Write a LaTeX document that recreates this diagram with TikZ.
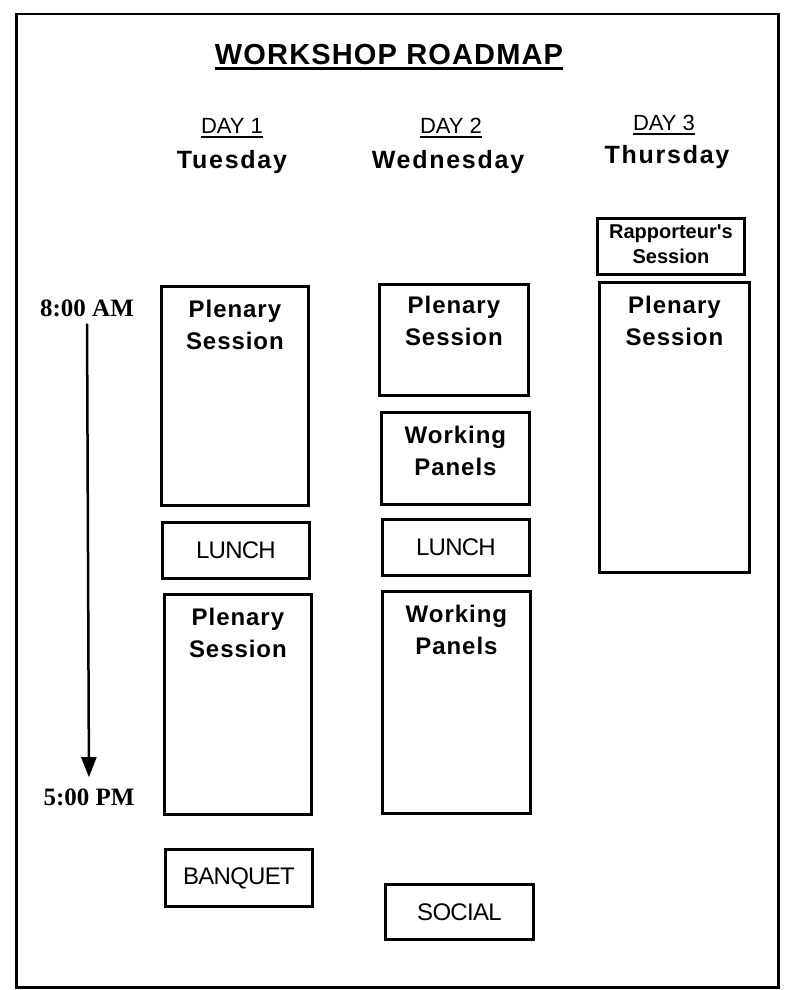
\documentclass[tikz,border=0pt]{standalone}
\usepackage{fontspec}
\setmainfont{Liberation Sans}
\newfontfamily\timesf{Liberation Serif}
\newfontfamily\spacedf[LetterSpace=4]{Liberation Sans}
\newfontfamily\headf[LetterSpace=7]{Liberation Sans}
\newfontfamily\tightf[LetterSpace=-3]{Liberation Sans}
\usetikzlibrary{arrows.meta}
\begin{document}
\begin{tikzpicture}[x=1pt,y=-1pt,
  boxnode/.style={draw, line width=2.8pt, inner sep=0pt, anchor=north west},
  lbl/.style={font=\spacedf\bfseries\fontsize{24}{32}\selectfont, align=center, inner sep=0pt, anchor=north},
  smalllbl/.style={font=\bfseries\fontsize{20}{25}\selectfont, align=center, inner sep=0pt, anchor=north},
  narrowlbl/.style={font=\tightf\fontsize{24}{28}\selectfont, inner sep=0pt},
  daylbl/.style={font=\fontsize{22}{26}\selectfont, inner sep=0pt, anchor=base},
  weekday/.style={font=\headf\bfseries\fontsize{25}{30}\selectfont, inner sep=0pt, anchor=base},
  timelbl/.style={font=\timesf\bfseries\fontsize{25}{30}\selectfont, inner sep=0pt, anchor=base},
  uline/.style={line width=2.2pt}]
\useasboundingbox (0,0) rectangle (788,990);
% frame
\node[draw, line width=2.5pt, inner sep=0pt, anchor=north west, minimum width=762pt, minimum height=973pt] (frame) at (15,13) {};
% title
\node[font=\spacedf\bfseries\fontsize{29}{34}\selectfont, inner sep=0pt, anchor=base] (title) at (389,64) {WORKSHOP ROADMAP};
\draw[line width=2.6pt] ([yshift=-4.5pt]title.base west) -- ([yshift=-4.5pt]title.base east);
% day headers
\node[daylbl] (day1) at (232,133) {DAY 1};
\node[daylbl] (day2) at (451,133) {DAY 2};
\node[daylbl] (day3) at (664,130) {DAY 3};
\draw[uline] ([yshift=-4pt]day1.base west) -- ([yshift=-4pt]day1.base east);
\draw[uline] ([yshift=-4pt]day2.base west) -- ([yshift=-4pt]day2.base east);
\draw[uline] ([yshift=-4pt]day3.base west) -- ([yshift=-4pt]day3.base east);
\node[weekday] (tue) at (232,168) {Tuesday};
\node[weekday] (wed) at (448,168) {Wednesday};
\node[weekday] (thu) at (667,163) {Thursday};
% timeline
\node[timelbl] (am) at (87,316) {8:00 AM};
\node[timelbl] (pm) at (89,805) {5:00 PM};
\draw[line width=2.5pt, -{Triangle[length=20pt,width=15pt]}, shorten <=7pt, shorten >=11pt] (am.south) -- (pm.north);
% Day 1
\node[boxnode, minimum width=147pt, minimum height=219pt] (d1a) at (160,285) {};
\node[lbl] (d1at) at ([yshift=-15pt]d1a.north) {Plenary\\Session};
\node[boxnode, minimum width=147pt, minimum height=56pt] (d1b) at (161,521) {};
\node[narrowlbl] (d1bt) at (d1b.center) {LUNCH};
\node[boxnode, minimum width=147pt, minimum height=220pt] (d1c) at (163,593) {};
\node[lbl] (d1ct) at ([yshift=-15pt]d1c.north) {Plenary\\Session};
\node[boxnode, minimum width=147pt, minimum height=57pt] (d1d) at (164,848) {};
\node[narrowlbl] (d1dt) at (d1d.center) {BANQUET};
% Day 2
\node[boxnode, minimum width=149pt, minimum height=111pt] (d2a) at (378,283) {};
\node[lbl] (d2at) at ([yshift=-13pt]d2a.north) {Plenary\\Session};
\node[boxnode, minimum width=148pt, minimum height=92pt] (d2b) at (380,411) {};
\node[lbl] (d2bt) at ([yshift=-15pt]d2b.north) {Working\\Panels};
\node[boxnode, minimum width=147pt, minimum height=56pt] (d2c) at (381,518) {};
\node[narrowlbl] (d2ct) at (d2c.center) {LUNCH};
\node[boxnode, minimum width=148pt, minimum height=222pt] (d2d) at (381,590) {};
\node[lbl] (d2dt) at ([yshift=-15pt]d2d.north) {Working\\Panels};
\node[boxnode, minimum width=148pt, minimum height=55pt] (d2e) at (384,883) {};
\node[narrowlbl] (d2et) at (d2e.center) {SOCIAL};
% Day 3
\node[boxnode, minimum width=147pt, minimum height=56pt] (d3a) at (596,217) {};
\node[smalllbl] (d3at) at ([yshift=-8pt]d3a.north) {Rapporteur\textquotesingle s\\Session};
\node[boxnode, minimum width=150pt, minimum height=290pt] (d3b) at (598,281) {};
\node[lbl] (d3bt) at ([yshift=-15pt]d3b.north) {Plenary\\Session};
\end{tikzpicture}
\end{document}
